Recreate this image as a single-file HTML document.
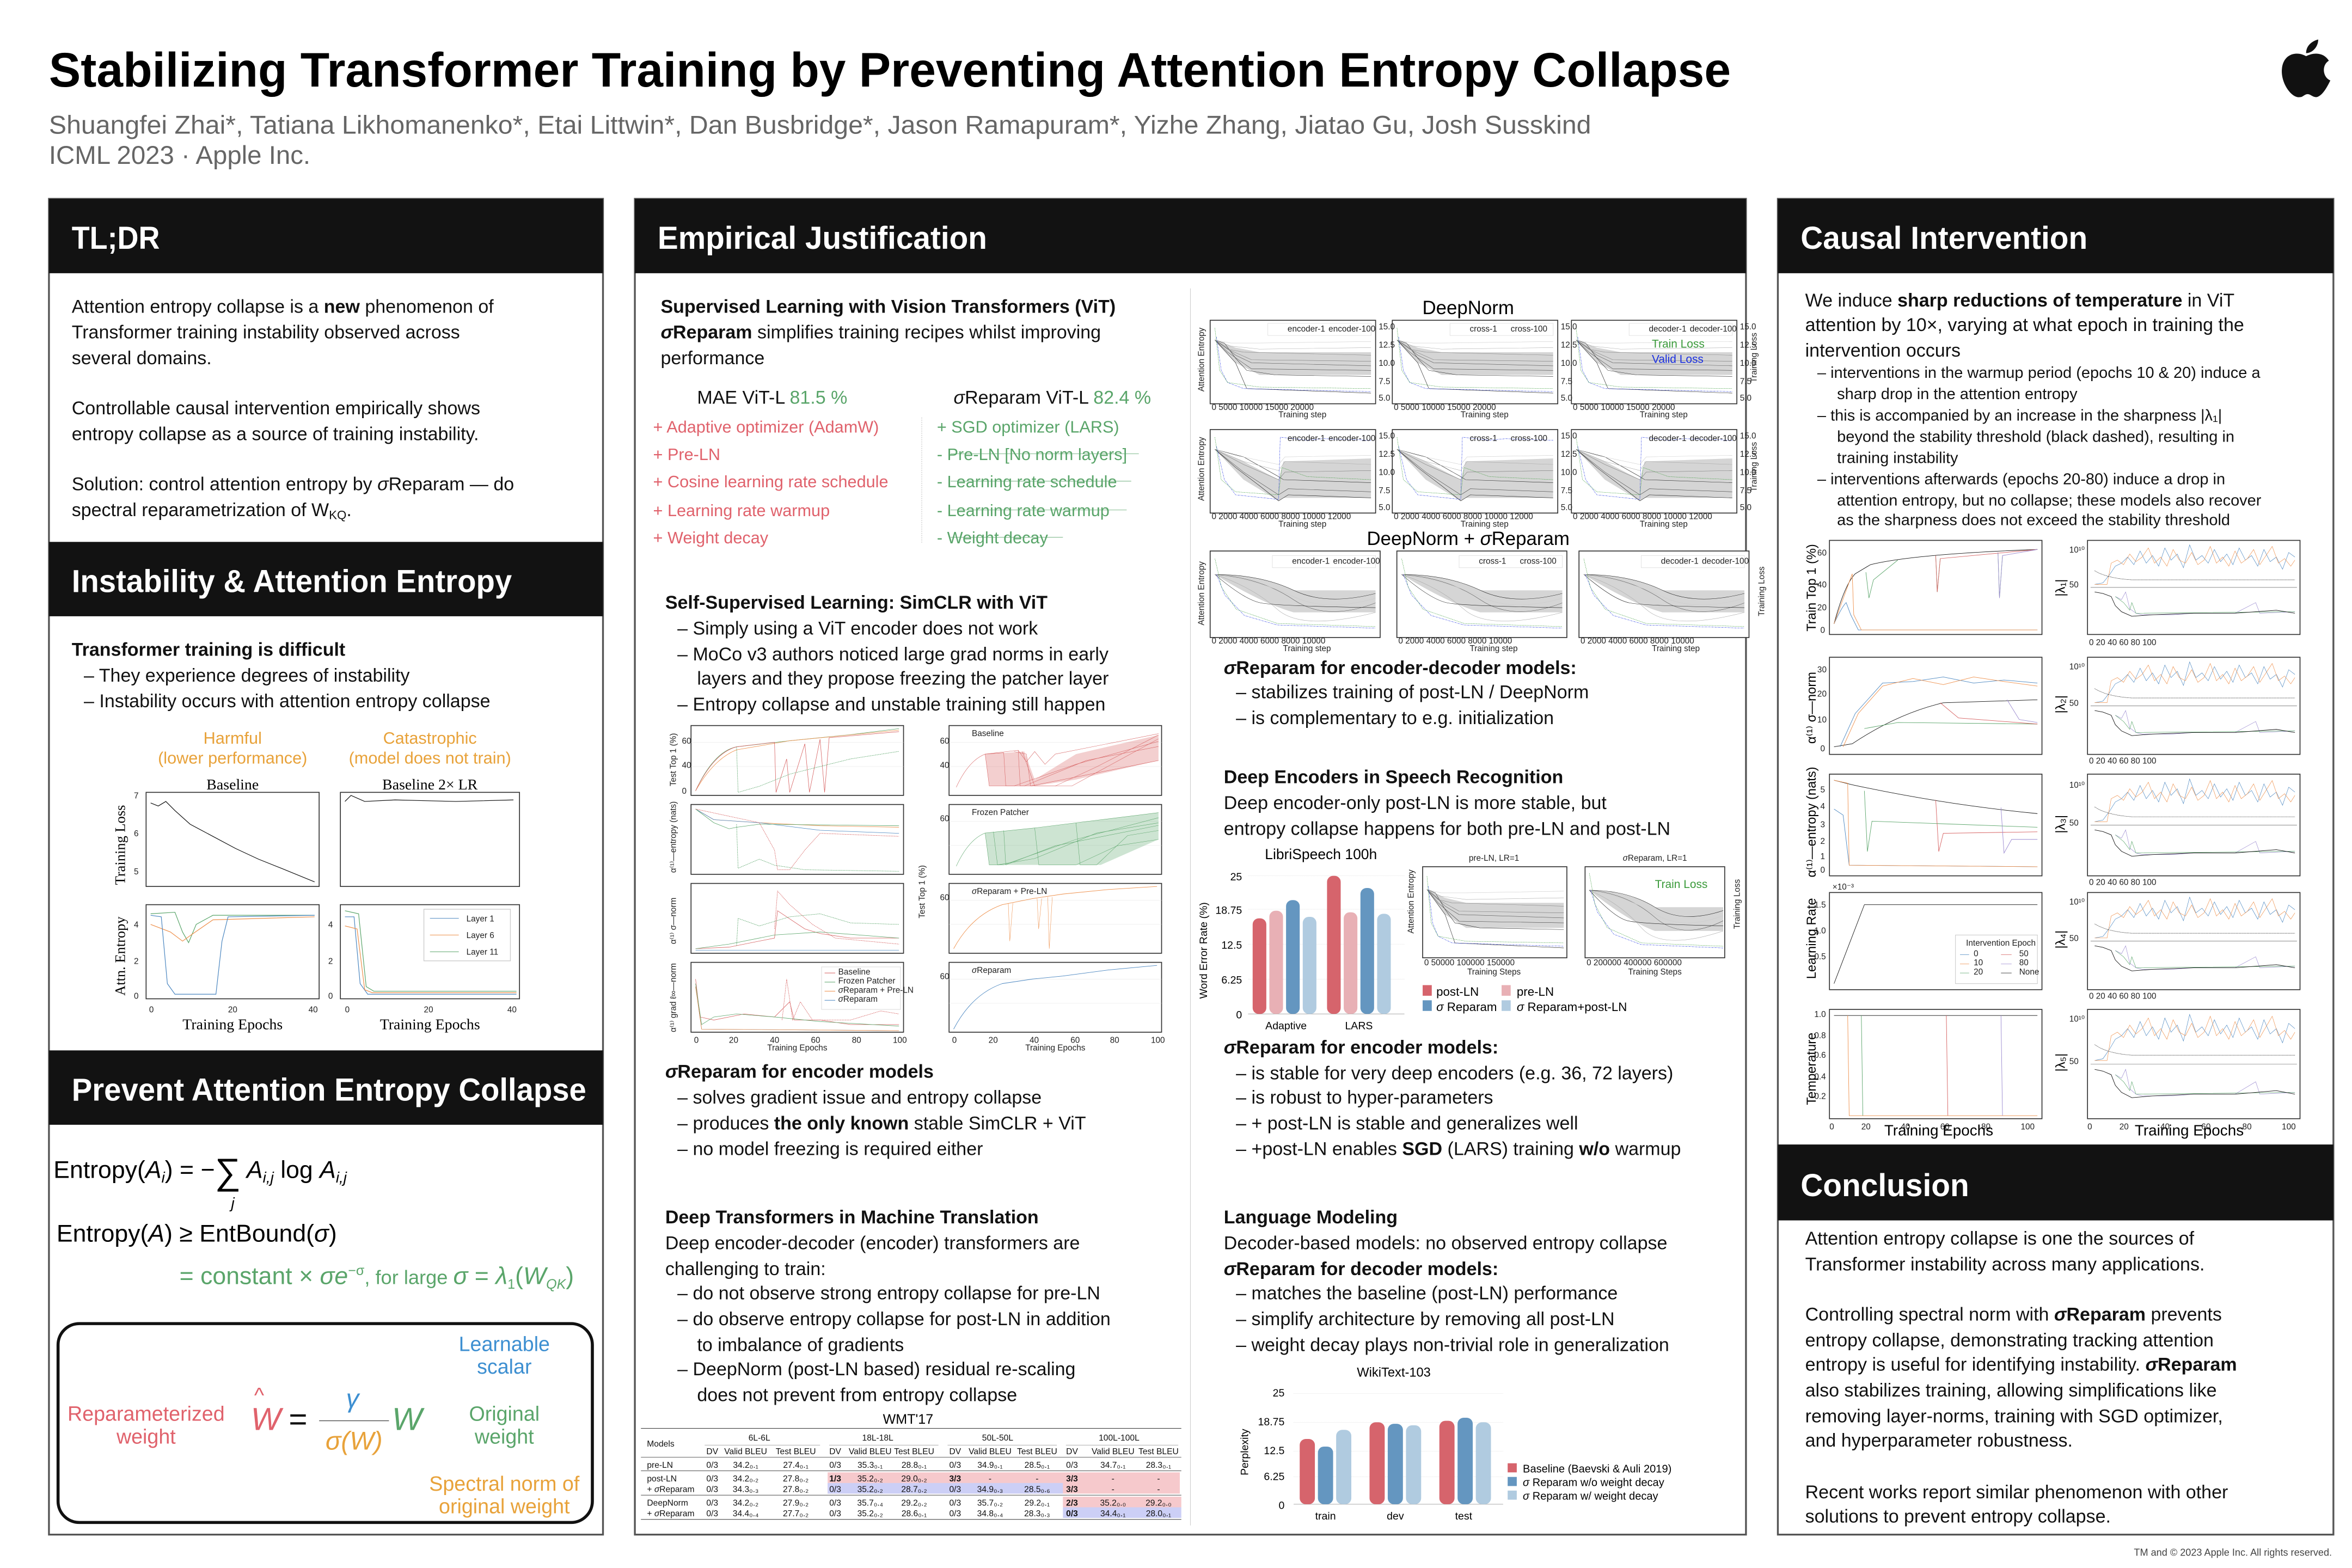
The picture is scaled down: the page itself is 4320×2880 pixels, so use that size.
<!DOCTYPE html>
<html><head><meta charset="utf-8">
<style>
html,body{margin:0;padding:0;background:#fff;}
body{width:4320px;height:2880px;overflow:hidden;}
svg{display:block}
</style></head><body>
<svg width="4320" height="2880" viewBox="0 0 1549 1033" xmlns="http://www.w3.org/2000/svg">
<defs>
<style>
text{font-family:"Liberation Sans",sans-serif;}
.b{font-size:12.2px;fill:#111}
.s{font-size:10.4px;fill:#111}
.h{font-size:21px;font-weight:bold;fill:#fff}
.bd{font-weight:bold}
.sf{font-family:"Liberation Serif",serif}
.tk{font-family:"Liberation Serif",serif;font-size:5.5px;fill:#222}
.tl{font-family:"Liberation Serif",serif;font-size:7.5px;fill:#222}
.tb{font-family:"Liberation Serif",serif;font-size:5.6px;fill:#111}
path,polyline,line{vector-effect:non-scaling-stroke}
.fr{fill:#fff;stroke:#333;stroke-width:0.6}
.gr{stroke:#e2e2e2;stroke-width:0.5}
</style>
<symbol id="dn1" viewBox="0 0 100 50" preserveAspectRatio="none">
<path d="M2,10 L15,15 L30,18 L100,18 L100,33 L30,33 L15,25 Z" fill="#888" opacity=".35"/>
<g fill="none" stroke-width="0.6">
<path d="M2,10 L8,12 L15,22 L22,30 L40,33 L100,34" stroke="#222"/>
<path d="M2,10 L8,14 L15,20 L25,25 L100,27" stroke="#555"/>
<path d="M2,10 L10,16 L20,18 L100,20" stroke="#888"/>
<path d="M2,10 L12,14 L30,16 L100,15" stroke="#aaa"/>
<path d="M2,10 L12,12 L30,12 L100,11" stroke="#ccc"/>
<path d="M2,10 L15,25 L22,42 L100,45" stroke="#111"/>
<path d="M2,10 L10,18 L25,29 L100,30" stroke="#444"/>
<path d="M2,10 L10,16 L25,23 L100,24" stroke="#777"/>
<path d="M3,8 L6,30 L10,38 L20,42 L100,44" stroke="#1a2fe0" stroke-dasharray="3,1,1,1"/>
<path d="M2,2 L5,30 L10,38 L30,41 L100,42" stroke="#3a9a3a" stroke-dasharray="2,1"/>
</g></symbol>
<symbol id="dn2" viewBox="0 0 100 50" preserveAspectRatio="none">
<path d="M2,10 L20,18 L42,30 L45,18 L100,16 L100,42 L45,42 L42,44 L20,30 Z" fill="#888" opacity=".35"/>
<g fill="none" stroke-width="0.6">
<path d="M2,10 L20,15 L42,28 L45,30 L100,32" stroke="#222"/>
<path d="M2,10 L15,22 L30,34 L42,44 L48,40 L100,42" stroke="#111"/>
<path d="M2,10 L20,18 L42,24 L46,18 L100,20" stroke="#aaa"/>
<path d="M2,10 L20,20 L42,30 L46,25 L100,24" stroke="#777"/>
<path d="M2,10 L15,14 L42,20 L46,15 L100,14" stroke="#ccc"/>
<path d="M2,10 L20,25 L42,40 L48,36 L100,38" stroke="#444"/>
<path d="M3,8 L8,30 L15,40 L42,43 L43,2 L60,4 L70,3 L100,4" stroke="#1a2fe0" stroke-dasharray="3,1,1,1"/>
<path d="M2,2 L6,30 L15,38 L42,40 L44,22 L60,28 L100,30" stroke="#3a9a3a" stroke-dasharray="2,1"/>
</g></symbol>
<symbol id="dn3" viewBox="0 0 100 50" preserveAspectRatio="none">
<path d="M2,12 Q30,12 50,22 L100,22 L100,36 L50,36 Q30,30 2,12 Z" fill="#888" opacity=".35"/>
<g fill="none" stroke-width="0.6">
<path d="M2,12 Q30,12 50,22 T100,24" stroke="#222"/>
<path d="M2,12 Q30,14 50,28 T100,30" stroke="#555"/>
<path d="M2,12 Q25,20 40,34 T100,36" stroke="#aaa"/>
<path d="M2,12 Q30,16 50,26 T100,27" stroke="#ccc"/>
<path d="M2,12 Q20,28 30,30 T100,33" stroke="#111"/>
<path d="M3,12 L8,25 L20,38 L40,44 L100,46" stroke="#1a2fe0" stroke-dasharray="3,1,1,1"/>
<path d="M2,2 L6,20 L15,34 L40,43 L100,45" stroke="#3a9a3a" stroke-dasharray="2,1"/>
</g></symbol>
<symbol id="lam" viewBox="0 0 100 60" preserveAspectRatio="none">
<line x1="0" y1="30" x2="100" y2="30" stroke="#444" stroke-width="0.6"/>
<g fill="none" stroke-width="0.7">
<path d="M2,28 L6,27 L9,22 L12,16 L15,14 L18,10 L21,15 L24,6 L27,14 L30,9 L33,16 L36,4 L39,12 L42,8 L45,17 L48,2 L51,12 L54,9 L57,14 L60,5 L63,13 L66,8 L69,15 L72,4 L75,12 L78,9 L81,16 L84,5 L87,13 L90,10 L93,18 L96,7 L99,10" stroke="#4a86c0"/>
<path d="M2,28 L8,28 L10,14 L13,12 L16,15 L19,8 L22,13 L25,10 L28,4 L31,14 L34,10 L37,16 L40,5 L43,12 L46,14 L49,7 L52,15 L55,12 L58,3 L61,14 L64,10 L67,16 L70,6 L73,14 L76,11 L79,5 L82,15 L85,9 L88,3 L91,14 L94,11 L97,16 L99,12" stroke="#ee8f4a"/>
<path d="M2,19 Q8,24 20,25 L99,25" stroke="#111" stroke-dasharray="1.5,1"/>
<path d="M12,36 L15,38 L17,33 L19,44 L22,47 L25,48 L40,48 L50,47 L70,47 L80,40 L82,47 L99,46" stroke="#9b8ad0"/>
<path d="M12,36 L16,40 L19,45 L20,40 L22,47 L99,46" stroke="#5aa56a"/>
<path d="M2,33 L6,34 L10,36 L12,42 L15,46 L20,49 L30,48 L50,47 L70,47 L90,45 L99,47" stroke="#111" stroke-width="0.9"/>
</g></symbol>
<symbol id="rb" viewBox="0 0 100 50" preserveAspectRatio="none">
<path d="M16,20 L35,18 L40,40 L60,20 L100,5 L100,25 L60,40 L40,45 L18,45 Z" fill="#d65f5f" opacity=".3"/>
<g fill="none" stroke="#d65f5f" stroke-width="0.6">
<path d="M2,46 Q8,25 16,20 L32,17 L33,45 L50,45 L70,30 L100,5"/>
<path d="M16,20 L18,45 L30,45 L60,28 L100,10"/>
<path d="M16,20 L25,19 L26,45 L35,45 L65,25 L100,14"/>
<path d="M30,18 L36,20 L38,45 L60,38 L100,25"/>
<path d="M34,18 L40,45 L58,45 L100,8"/>
<path d="M32,17 L36,26 L40,18 L45,28 L50,20 L100,4"/>
</g></symbol>
<symbol id="gb" viewBox="0 0 100 50" preserveAspectRatio="none">
<path d="M16,20 L40,16 L100,4 L100,25 L72,45 L40,45 L18,45 Z" fill="#5aa56a" opacity=".3"/>
<g fill="none" stroke="#5aa56a" stroke-width="0.6">
<path d="M2,46 Q8,25 16,20 L40,16 L100,4"/>
<path d="M16,20 L18,45 L25,45 L60,25 L100,8"/>
<path d="M20,19 L22,45 L40,40 L70,20 L100,12"/>
<path d="M25,18 L26,45 L50,30 L100,14"/>
<path d="M60,12 L62,45 L70,45 L85,22 L100,18"/>
<path d="M40,16 L42,45 L60,45 L80,30 L100,25"/>
</g></symbol>
</defs>

<text x="32" y="57" font-size="32" font-weight="bold" textLength="1108" lengthAdjust="spacingAndGlyphs">Stabilizing Transformer Training by Preventing Attention Entropy Collapse</text>
<text x="32" y="88" font-size="17" fill="#666" textLength="1016" lengthAdjust="spacingAndGlyphs">Shuangfei Zhai*, Tatiana Likhomanenko*, Etai Littwin*, Dan Busbridge*, Jason Ramapuram*, Yizhe Zhang, Jiatao Gu, Josh Susskind</text>
<text x="32" y="108" font-size="17" fill="#666">ICML 2023  ·  Apple Inc.</text>
<g fill="#111">
<path d="M1519,37 C1512,33 1503,36 1503,47 C1503,56 1510,65 1515,64 C1517,64 1518,62 1520,62 C1522,62 1523,64 1526,64 C1530,63 1533,57 1535,53 C1530,51 1529,43 1534,40 C1531,35 1525,34 1519,37 Z"/>
<path d="M1519,35 C1519,30 1523,27 1527,26 C1527,31 1523,35 1519,35 Z"/>
</g>

<g fill="none" stroke="#555" stroke-width="1.2">
<rect x="32" y="131" width="365" height="880"/>
<rect x="418" y="131" width="732" height="880"/>
<rect x="1171" y="131" width="366" height="880"/>
</g>
<g fill="#121212">
<rect x="32" y="131" width="365" height="49"/>
<rect x="32" y="357" width="365" height="49"/>
<rect x="32" y="692" width="365" height="49"/>
<rect x="418" y="131" width="732" height="49"/>
<rect x="1171" y="131" width="366" height="49"/>
<rect x="1171" y="754" width="366" height="50"/>
</g>
<text class="h" x="47" y="164" textLength="58" lengthAdjust="spacingAndGlyphs">TL;DR</text>
<text class="h" x="47" y="390" textLength="290" lengthAdjust="spacingAndGlyphs">Instability &amp; Attention Entropy</text>
<text class="h" x="47" y="725" textLength="339" lengthAdjust="spacingAndGlyphs">Prevent Attention Entropy Collapse</text>
<text class="h" x="433" y="164" textLength="217" lengthAdjust="spacingAndGlyphs">Empirical Justification</text>
<text class="h" x="1186" y="164" textLength="189" lengthAdjust="spacingAndGlyphs">Causal Intervention</text>
<text class="h" x="1186" y="788" textLength="111" lengthAdjust="spacingAndGlyphs">Conclusion</text>

<text class="b" x="47" y="206">Attention entropy collapse is a <tspan class="bd">new</tspan> phenomenon of</text>
<text class="b" x="47" y="223">Transformer training instability observed across</text>
<text class="b" x="47" y="240">several domains.</text>
<text class="b" x="47" y="273">Controllable causal intervention empirically shows</text>
<text class="b" x="47" y="290">entropy collapse as a source of training instability.</text>
<text class="b" x="47" y="323">Solution: control attention entropy by <tspan font-style="italic">σ</tspan>Reparam  — do</text>
<text class="b" x="47" y="340">spectral reparametrization of W<tspan font-size="8" dy="2">KQ</tspan><tspan dy="-2">.</tspan></text>
<text class="b bd" x="47" y="432">Transformer training is difficult</text>
<text class="b" x="55" y="449">– They experience degrees of instability</text>
<text class="b" x="55" y="466">– Instability occurs with attention entropy collapse</text>

<g font-size="11" fill="#e8a23a" text-anchor="middle">
<text x="153" y="490">Harmful</text><text x="153" y="503">(lower performance)</text>
<text x="283" y="490">Catastrophic</text><text x="283" y="503">(model does not train)</text>
</g>
<text class="sf" x="153" y="520" font-size="10" text-anchor="middle">Baseline</text>
<text class="sf" x="283" y="520" font-size="10" text-anchor="middle">Baseline 2× LR</text>
<rect class="fr" x="96" y="522" width="114" height="62"/>
<rect class="fr" x="224" y="522" width="118" height="62"/>
<rect class="fr" x="96" y="596" width="114" height="62"/>
<rect class="fr" x="224" y="596" width="118" height="62"/>
<g class="tk" font-size="7">
<text x="88" y="526">7</text><text x="88" y="551">6</text><text x="88" y="576">5</text>
<text x="88" y="611">4</text><text x="88" y="635">2</text><text x="88" y="658">0</text>
<text x="216" y="611">4</text><text x="216" y="635">2</text><text x="216" y="658">0</text>
<text x="98" y="667">0</text><text x="150" y="667">20</text><text x="203" y="667">40</text>
<text x="227" y="667">0</text><text x="279" y="667">20</text><text x="334" y="667">40</text>
</g>
<text class="sf" font-size="9.5" transform="translate(82,583) rotate(-90)">Training Loss</text>
<text class="sf" font-size="9.5" transform="translate(82,656) rotate(-90)">Attn. Entropy</text>
<text class="sf" font-size="10" x="153" y="678" text-anchor="middle">Training Epochs</text>
<text class="sf" font-size="10" x="283" y="678" text-anchor="middle">Training Epochs</text>
<g fill="none" stroke-width="1.2">
<path d="M99,529 L104,531 L109,528 L115,534 L125,543 L140,551 L155,559 L170,566 L185,572 L207,581" stroke="#111"/>
<path d="M227,528 L231,524 L240,528 L260,527 L300,528 L338,527" stroke="#111"/>
<path d="M99,602 L115,601 L120,614 L124,621 L129,609 L140,603 L207,603" stroke="#5aa56a"/>
<path d="M99,609 L112,614 L120,620 L127,615 L140,606 L207,604" stroke="#ee8f4a"/>
<path d="M99,603 L106,604 L110,648 L115,655 L142,655 L146,620 L150,604 L207,603" stroke="#4a86c0"/>
<path d="M227,604 L233,604 L237,648 L242,655 L340,655" stroke="#4a86c0"/>
<path d="M227,610 L235,612 L240,652 L245,654 L340,654" stroke="#ee8f4a"/>
<path d="M227,600 L236,602 L241,650 L246,653 L340,653" stroke="#5aa56a"/>
</g>
<rect x="279" y="599" width="57" height="34" fill="#fff" stroke="#ccc" stroke-width="0.5"/>
<g class="tk" font-size="7"><text x="307" y="607">Layer 1</text><text x="307" y="618">Layer 6</text><text x="307" y="629">Layer 11</text></g>
<line x1="283" y1="605" x2="302" y2="605" stroke="#4a86c0"/><line x1="283" y1="616" x2="302" y2="616" stroke="#ee8f4a"/><line x1="283" y1="627" x2="302" y2="627" stroke="#5aa56a"/>

<g class="sf" font-size="16">
<text x="35" y="776"><tspan>Entropy(</tspan><tspan font-style="italic">A<tspan font-size="10" dy="3">i</tspan></tspan><tspan dy="-3">) = −</tspan><tspan font-size="24" dy="4">∑</tspan><tspan dy="-4" font-style="italic"> A<tspan font-size="10" dy="3">i,j</tspan></tspan><tspan dy="-3"> log </tspan><tspan font-style="italic">A<tspan font-size="10" dy="3">i,j</tspan></tspan></text>
<text x="152" y="796" font-size="10" font-style="italic">j</text>
<text x="37" y="818">Entropy(<tspan font-style="italic">A</tspan>) ≥ EntBound(<tspan font-style="italic">σ</tspan>)</text>
<text x="118" y="846" fill="#5aa56a">= constant × <tspan font-style="italic">σe</tspan><tspan font-size="9" dy="-6">−σ</tspan><tspan dy="6" font-family="Liberation Sans" font-size="13">, for large </tspan><tspan font-style="italic">σ</tspan> = <tspan font-style="italic">λ</tspan><tspan font-size="9" dy="3">1</tspan><tspan dy="-3">(</tspan><tspan font-style="italic">W<tspan font-size="9" dy="3">QK</tspan></tspan><tspan dy="-3">)</tspan></text>
</g>
<rect x="38" y="872" width="352" height="131" rx="14" fill="none" stroke="#111" stroke-width="2"/>
<g font-size="13.5" text-anchor="middle">
<text x="332" y="890" fill="#3d8fd1">Learnable</text><text x="332" y="905" fill="#3d8fd1">scalar</text>
<text x="96" y="936" fill="#e0626c">Reparameterized</text><text x="96" y="951" fill="#e0626c">weight</text>
<text x="332" y="936" fill="#5aa56a">Original</text><text x="332" y="951" fill="#5aa56a">weight</text>
<text x="332" y="982" fill="#e8a23a">Spectral norm of</text><text x="332" y="997" fill="#e8a23a">original weight</text>
</g>
<g class="sf" font-size="21" font-style="italic">
<text x="165" y="942" fill="#e0626c">W</text><text x="167" y="924" fill="#e0626c" font-size="14">^</text>
<text x="190" y="942" fill="#111" font-style="normal">=</text>
<text x="232" y="927" fill="#3d8fd1" text-anchor="middle" font-size="17">γ</text>
<line x1="210" y1="936" x2="256" y2="936" stroke="#111" stroke-width="1"/>
<text x="233" y="955" fill="#e8a23a" text-anchor="middle" font-size="17">σ(W)</text>
<text x="258" y="942" fill="#5aa56a">W</text>
</g>

<line x1="784" y1="190" x2="784" y2="1005" stroke="#ccc" stroke-width="1"/>
<text class="b bd" x="435" y="206">Supervised Learning with Vision Transformers (ViT)</text>
<text class="b" x="435" y="223"><tspan class="bd"><tspan font-style="italic">σ</tspan>Reparam</tspan> simplifies training recipes whilst improving</text>
<text class="b" x="435" y="240">performance</text>
<text class="b" x="459" y="266">MAE ViT-L <tspan fill="#5aa56a">81.5 %</tspan></text>
<text class="b" x="628" y="266"><tspan font-style="italic">σ</tspan>Reparam ViT-L <tspan fill="#5aa56a">82.4 %</tspan></text>
<g font-size="11" fill="#e0626c">
<text x="430" y="285">+ Adaptive optimizer (AdamW)</text>
<text x="430" y="303">+ Pre-LN</text>
<text x="430" y="321">+ Cosine learning rate schedule</text>
<text x="430" y="340">+ Learning rate warmup</text>
<text x="430" y="358">+ Weight decay</text>
</g>
<line x1="607" y1="275" x2="607" y2="358" stroke="#bbb" stroke-dasharray="2,2"/>
<g font-size="11" fill="#5aa56a">
<text x="617" y="285">+ SGD optimizer (LARS)</text>
<text x="617" y="303">- Pre-LN [No norm layers]</text>
<text x="617" y="321">- Learning rate schedule</text>
<text x="617" y="340">- Learning rate warmup</text>
<text x="617" y="358">- Weight decay</text>
</g>
<line x1="626" y1="299" x2="750" y2="299" stroke="#5aa56a" stroke-width=".8"/>
<line x1="626" y1="317" x2="745" y2="317" stroke="#5aa56a" stroke-width=".8"/>
<line x1="626" y1="336" x2="742" y2="336" stroke="#5aa56a" stroke-width=".8"/>
<line x1="626" y1="354" x2="700" y2="354" stroke="#5aa56a" stroke-width=".8"/>

<text class="b bd" x="438" y="401">Self-Supervised Learning: SimCLR with ViT</text>
<text class="b" x="446" y="418">– Simply using a ViT encoder does not work</text>
<text class="b" x="446" y="435">– MoCo v3 authors noticed large grad norms in early</text>
<text class="b" x="459" y="451">layers and they propose freezing the patcher layer</text>
<text class="b" x="446" y="468">– Entropy collapse and unstable training still happen</text>

<g>
<rect class="fr" x="455" y="478" width="140" height="46"/>
<rect class="fr" x="455" y="530" width="140" height="46"/>
<rect class="fr" x="455" y="582" width="140" height="46"/>
<rect class="fr" x="455" y="634" width="140" height="46"/>
<rect class="fr" x="625" y="478" width="140" height="46"/>
<rect class="fr" x="625" y="530" width="140" height="46"/>
<rect class="fr" x="625" y="582" width="140" height="46"/>
<rect class="fr" x="625" y="634" width="140" height="46"/>
</g>
<g class="gr">
<line x1="455" y1="489" x2="595" y2="489"/><line x1="455" y1="505" x2="595" y2="505"/>
<line x1="625" y1="489" x2="765" y2="489"/><line x1="625" y1="505" x2="765" y2="505"/>
<line x1="625" y1="541" x2="765" y2="541"/><line x1="625" y1="557" x2="765" y2="557"/>
<line x1="625" y1="593" x2="765" y2="593"/><line x1="625" y1="609" x2="765" y2="609"/>
<line x1="625" y1="645" x2="765" y2="645"/><line x1="625" y1="661" x2="765" y2="661"/>
</g>
<g fill="none" stroke-width="0.8">
<path d="M458,521 Q470,495 485,492 L520,488 L560,484 L592,480" stroke="#5aa56a"/>
<path d="M458,521 Q470,500 485,494 L520,488 L592,481" stroke="#ee8f4a"/>
<path d="M458,521 Q470,496 485,492 L510,489 L511,522 L518,500 L520,522 L530,490 L533,522 L540,487 L543,522 L546,486 L592,482" stroke="#d65f5f"/>
<path d="M485,492 L486,522 L500,518 L520,510 L540,505 L560,500 L592,495" stroke="#5aa56a" stroke-dasharray="2,1"/>
<path d="M458,533 L470,540 L500,542 L540,544 L592,545" stroke="#ee8f4a"/>
<path d="M458,533 L470,540 L500,542 L540,547 L592,549" stroke="#4a86c0"/>
<path d="M458,533 L470,542 L480,546 L485,545 L500,543 L592,544" stroke="#5aa56a"/>
<path d="M485,543 L486,572 L500,566 L510,570 L530,573 L592,574" stroke="#5aa56a" stroke-dasharray="2,1"/>
<path d="M458,533 L500,542 L510,560 L512,573 L520,573 L530,560 L540,549 L592,551" stroke="#d65f5f" stroke-dasharray="2,1"/>
<path d="M458,625 L480,624 L510,618 L512,600 L530,612 L540,615 L560,618 L592,618" stroke="#d65f5f"/>
<path d="M458,625 L480,622 L510,616 L540,614 L592,618" stroke="#5aa56a"/>
<path d="M485,623 L486,605 L500,610 L520,604 L540,602 L560,608 L592,609" stroke="#5aa56a" stroke-dasharray="2,1"/>
<path d="M510,612 L512,587 L520,596 L535,609 L550,618 L592,622" stroke="#d65f5f" stroke-dasharray="2,1"/>
<path d="M458,626 L592,626" stroke="#4a86c0"/>
<path d="M458,645 L461,670 L470,672 L490,668 L510,670 L520,660 L523,672 L540,672 L560,675 L592,675" stroke="#d65f5f"/>
<path d="M458,648 L462,675 L470,670 L485,668 L510,670 L540,673 L592,676" stroke="#5aa56a"/>
<path d="M458,650 L462,678 L592,679" stroke="#4a86c0"/>
<path d="M458,650 L462,678 L592,679" stroke="#ee8f4a"/>
<path d="M515,672 L518,645 L522,672 L527,660 L535,672 L560,672 L580,666 L592,668" stroke="#d65f5f" stroke-dasharray="2,1"/>
</g>
<rect x="541" y="637" width="52" height="28" fill="#fff" stroke="#ddd" stroke-width=".4"/>
<g class="tk" font-size="4.2"><text x="552" y="642">Baseline</text><text x="552" y="648">Frozen Patcher</text><text x="552" y="654"><tspan font-style="italic">σ</tspan>Reparam + Pre-LN</text><text x="552" y="660"><tspan font-style="italic">σ</tspan>Reparam</text></g>
<line x1="543" y1="641" x2="550" y2="641" stroke="#d65f5f"/><line x1="543" y1="647" x2="550" y2="647" stroke="#5aa56a"/><line x1="543" y1="653" x2="550" y2="653" stroke="#ee8f4a"/><line x1="543" y1="659" x2="550" y2="659" stroke="#4a86c0"/>
<use href="#rb" x="627" y="480" width="136" height="42"/>
<use href="#gb" x="627" y="532" width="136" height="42"/>
<path d="M628,625 Q640,603 660,596 L680,592 L700,589 L730,586 L762,584" fill="none" stroke="#ee8f4a" stroke-width="0.9"/>
<path d="M664,595 L665,620 L667,595 M683,592 L684,612 L686,592 M690,591 L691,625 L693,591" fill="none" stroke="#ee8f4a" stroke-width=".6"/>
<path d="M628,678 Q640,655 660,648 L680,645 L700,643 L730,639 L762,636" fill="none" stroke="#4a86c0" stroke-width="0.9"/>
<g class="tk" font-size="4.5">
<text x="640" y="485">Baseline</text><text x="640" y="537">Frozen Patcher</text><text x="640" y="589"><tspan font-style="italic">σ</tspan>Reparam + Pre-LN</text><text x="640" y="641"><tspan font-style="italic">σ</tspan>Reparam</text>
</g>
<g class="tk">
<text x="449" y="490">60</text><text x="449" y="506">40</text><text x="449" y="523">0</text>
<text x="619" y="490">60</text><text x="619" y="506">40</text><text x="619" y="541">60</text><text x="619" y="593">60</text><text x="619" y="645">60</text>
<text x="457" y="687">0</text><text x="480" y="687">20</text><text x="507" y="687">40</text><text x="534" y="687">60</text><text x="561" y="687">80</text><text x="588" y="687">100</text>
<text x="627" y="687">0</text><text x="651" y="687">20</text><text x="678" y="687">40</text><text x="705" y="687">60</text><text x="731" y="687">80</text><text x="758" y="687">100</text>
</g>
<g class="tk" font-size="5.5">
<text transform="translate(445,518) rotate(-90)">Test Top 1 (%)</text>
<text transform="translate(445,575) rotate(-90)">α⁽¹⁾—entropy (nats)</text>
<text transform="translate(445,622) rotate(-90)">α⁽¹⁾ σ—norm</text>
<text transform="translate(445,680) rotate(-90)">α⁽¹⁾ grad ℓ∞—norm</text>
<text transform="translate(609,605) rotate(-90)">Test Top 1 (%)</text>
<text x="525" y="692" text-anchor="middle">Training Epochs</text><text x="695" y="692" text-anchor="middle">Training Epochs</text>
</g>

<text class="b bd" x="438" y="710"><tspan font-style="italic">σ</tspan>Reparam for encoder models</text>
<text class="b" x="446" y="727">– solves gradient issue and entropy collapse</text>
<text class="b" x="446" y="744">– produces <tspan class="bd">the only known</tspan> stable SimCLR + ViT</text>
<text class="b" x="446" y="761">– no model freezing is required either</text>

<text class="b bd" x="438" y="806">Deep Transformers in Machine Translation</text>
<text class="b" x="438" y="823">Deep encoder-decoder (encoder) transformers are</text>
<text class="b" x="438" y="840">challenging to train:</text>
<text class="b" x="446" y="856">– do not observe strong entropy collapse for pre-LN</text>
<text class="b" x="446" y="873">– do observe entropy collapse for post-LN in addition</text>
<text class="b" x="459" y="890">to imbalance of gradients</text>
<text class="b" x="446" y="906">– DeepNorm (post-LN based) residual re-scaling</text>
<text class="b" x="459" y="923">does not prevent from entropy collapse</text>

<text x="598" y="938" font-size="9" text-anchor="middle">WMT'17</text>
<g fill="#f6c9cc"><rect x="545" y="970" width="232" height="14"/><rect x="700" y="986" width="78" height="7"/></g>
<g fill="#cccff6"><rect x="545" y="977" width="155" height="7"/><rect x="700" y="993" width="78" height="7"/></g>
<g stroke="#333"><line x1="422" y1="941" x2="778" y2="941" stroke-width="1"/><line x1="422" y1="960" x2="778" y2="960" stroke-width="0.8"/><line x1="422" y1="969" x2="778" y2="969" stroke-width="0.8"/><line x1="422" y1="985" x2="778" y2="985" stroke-width="0.8"/><line x1="422" y1="1001" x2="778" y2="1001" stroke-width="1"/>
<g stroke-width=".4"><line x1="464" y1="952" x2="540" y2="952"/><line x1="546" y1="952" x2="618" y2="952"/><line x1="624" y1="952" x2="696" y2="952"/><line x1="702" y1="952" x2="776" y2="952"/></g></g>
<g class="tb" text-anchor="middle">
<text x="435" y="953">Models</text>
<text x="500" y="949">6L-6L</text><text x="578" y="949">18L-18L</text><text x="657" y="949">50L-50L</text><text x="737" y="949">100L-100L</text>
<text x="469" y="958">DV</text><text x="491" y="958">Valid BLEU</text><text x="524" y="958">Test BLEU</text>
<text x="550" y="958">DV</text><text x="573" y="958">Valid BLEU</text><text x="602" y="958">Test BLEU</text>
<text x="629" y="958">DV</text><text x="652" y="958">Valid BLEU</text><text x="683" y="958">Test BLEU</text>
<text x="706" y="958">DV</text><text x="733" y="958">Valid BLEU</text><text x="763" y="958">Test BLEU</text>
</g>
<g class="tb">
<text x="426" y="967">pre-LN</text><text x="426" y="976">post-LN</text><text x="426" y="983">  + <tspan font-style="italic">σ</tspan>Reparam</text>
<text x="426" y="992">DeepNorm</text><text x="426" y="999">  + <tspan font-style="italic">σ</tspan>Reparam</text>
</g>
<g class="tb" text-anchor="middle">
<text x="469" y="967">0/3</text><text x="491" y="967">34.2₀.₁</text><text x="524" y="967">27.4₀.₁</text><text x="550" y="967">0/3</text><text x="573" y="967">35.3₀.₁</text><text x="602" y="967">28.8₀.₁</text><text x="629" y="967">0/3</text><text x="652" y="967">34.9₀.₁</text><text x="683" y="967">28.5₀.₁</text><text x="706" y="967">0/3</text><text x="733" y="967">34.7₀.₁</text><text x="763" y="967">28.3₀.₁</text>
<text x="469" y="976">0/3</text><text x="491" y="976">34.2₀.₂</text><text x="524" y="976">27.8₀.₂</text><text x="550" y="976" font-weight="bold">1/3</text><text x="573" y="976">35.2₀.₂</text><text x="602" y="976">29.0₀.₂</text><text x="629" y="976" font-weight="bold">3/3</text><text x="652" y="976">-</text><text x="683" y="976">-</text><text x="706" y="976" font-weight="bold">3/3</text><text x="733" y="976">-</text><text x="763" y="976">-</text>
<text x="469" y="983">0/3</text><text x="491" y="983">34.3₀.₃</text><text x="524" y="983">27.8₀.₂</text><text x="550" y="983">0/3</text><text x="573" y="983">35.2₀.₂</text><text x="602" y="983">28.7₀.₂</text><text x="629" y="983">0/3</text><text x="652" y="983">34.9₀.₃</text><text x="683" y="983">28.5₀.₆</text><text x="706" y="983" font-weight="bold">3/3</text><text x="733" y="983">-</text><text x="763" y="983">-</text>
<text x="469" y="992">0/3</text><text x="491" y="992">34.2₀.₂</text><text x="524" y="992">27.9₀.₂</text><text x="550" y="992">0/3</text><text x="573" y="992">35.7₀.₄</text><text x="602" y="992">29.2₀.₂</text><text x="629" y="992">0/3</text><text x="652" y="992">35.7₀.₂</text><text x="683" y="992">29.2₀.₁</text><text x="706" y="992" font-weight="bold">2/3</text><text x="733" y="992">35.2₀.₀</text><text x="763" y="992">29.2₀.₀</text>
<text x="469" y="999">0/3</text><text x="491" y="999">34.4₀.₄</text><text x="524" y="999">27.7₀.₂</text><text x="550" y="999">0/3</text><text x="573" y="999">35.2₀.₂</text><text x="602" y="999">28.6₀.₁</text><text x="629" y="999">0/3</text><text x="652" y="999">34.8₀.₄</text><text x="683" y="999">28.3₀.₃</text><text x="706" y="999" font-weight="bold">0/3</text><text x="733" y="999">34.4₀.₁</text><text x="763" y="999">28.0₀.₁</text>
</g>

<text x="967" y="207" font-size="12.5" text-anchor="middle">DeepNorm</text>
<text x="967" y="359" font-size="12.5" text-anchor="middle">DeepNorm + <tspan font-style="italic">σ</tspan>Reparam</text>
<g>
<rect class="fr" x="797" y="211" width="109" height="55"/><rect class="fr" x="917" y="211" width="109" height="55"/><rect class="fr" x="1035" y="211" width="109" height="55"/>
<rect class="fr" x="797" y="283" width="109" height="55"/><rect class="fr" x="917" y="283" width="109" height="55"/><rect class="fr" x="1035" y="283" width="109" height="55"/>
<rect class="fr" x="797" y="363" width="112" height="57"/><rect class="fr" x="920" y="363" width="112" height="57"/><rect class="fr" x="1040" y="363" width="112" height="57"/>
</g>
<use href="#dn1" x="798" y="214" width="105" height="50"/>
<use href="#dn1" x="918" y="214" width="105" height="50"/>
<use href="#dn1" x="1036" y="214" width="105" height="50"/>
<use href="#dn2" x="798" y="286" width="105" height="50"/>
<use href="#dn2" x="918" y="286" width="105" height="50"/>
<use href="#dn2" x="1036" y="286" width="105" height="50"/>
<use href="#dn3" x="798" y="366" width="108" height="52"/>
<use href="#dn3" x="921" y="366" width="108" height="52"/>
<use href="#dn3" x="1041" y="366" width="108" height="52"/>
<g class="tk" font-size="3.8">
<rect x="835" y="213" width="68" height="8" fill="#fff" stroke="#ddd" stroke-width=".3"/><text x="848" y="218.5">encoder-1</text><text x="875" y="218.5">encoder-100</text>
<rect x="955" y="213" width="68" height="8" fill="#fff" stroke="#ddd" stroke-width=".3"/><text x="968" y="218.5">cross-1</text><text x="995" y="218.5">cross-100</text>
<rect x="1073" y="213" width="68" height="8" fill="#fff" stroke="#ddd" stroke-width=".3"/><text x="1086" y="218.5">decoder-1</text><text x="1113" y="218.5">decoder-100</text>
<text x="848" y="290.5">encoder-1</text><text x="875" y="290.5">encoder-100</text><text x="968" y="290.5">cross-1</text><text x="995" y="290.5">cross-100</text><text x="1086" y="290.5">decoder-1</text><text x="1113" y="290.5">decoder-100</text>
<rect x="838" y="366" width="68" height="8" fill="#fff" stroke="#ddd" stroke-width=".3"/><text x="851" y="371.5">encoder-1</text><text x="878" y="371.5">encoder-100</text>
<rect x="961" y="366" width="68" height="8" fill="#fff" stroke="#ddd" stroke-width=".3"/><text x="974" y="371.5">cross-1</text><text x="1001" y="371.5">cross-100</text>
<rect x="1081" y="366" width="68" height="8" fill="#fff" stroke="#ddd" stroke-width=".3"/><text x="1094" y="371.5">decoder-1</text><text x="1121" y="371.5">decoder-100</text>
<text x="842" y="275">Training step</text><text x="962" y="275">Training step</text><text x="1080" y="275">Training step</text>
<text x="842" y="347">Training step</text><text x="962" y="347">Training step</text><text x="1080" y="347">Training step</text>
<text x="845" y="429">Training step</text><text x="968" y="429">Training step</text><text x="1088" y="429">Training step</text>
<text x="798" y="270">0   5000  10000  15000  20000</text><text x="918" y="270">0   5000  10000  15000  20000</text><text x="1036" y="270">0   5000  10000  15000  20000</text>
<text x="798" y="342">0  2000 4000 6000 8000 10000 12000</text><text x="918" y="342">0  2000 4000 6000 8000 10000 12000</text><text x="1036" y="342">0  2000 4000 6000 8000 10000 12000</text>
<text x="798" y="424">0  2000  4000  6000  8000  10000</text><text x="921" y="424">0  2000  4000  6000  8000  10000</text><text x="1041" y="424">0  2000  4000  6000  8000  10000</text>
<text x="908" y="217">15.0</text><text x="908" y="229">12.5</text><text x="908" y="241">10.0</text><text x="908" y="253">7.5</text><text x="908" y="264">5.0</text>
<text x="1028" y="217">15.0</text><text x="1028" y="229">12.5</text><text x="1028" y="241">10.0</text><text x="1028" y="253">7.5</text><text x="1028" y="264">5.0</text>
<text x="1146" y="217">15.0</text><text x="1146" y="229">12.5</text><text x="1146" y="241">10.0</text><text x="1146" y="253">7.5</text><text x="1146" y="264">5.0</text>
<text x="908" y="289">15.0</text><text x="908" y="301">12.5</text><text x="908" y="313">10.0</text><text x="908" y="325">7.5</text><text x="908" y="336">5.0</text>
<text x="1028" y="289">15.0</text><text x="1028" y="301">12.5</text><text x="1028" y="313">10.0</text><text x="1028" y="325">7.5</text><text x="1028" y="336">5.0</text>
<text x="1146" y="289">15.0</text><text x="1146" y="301">12.5</text><text x="1146" y="313">10.0</text><text x="1146" y="325">7.5</text><text x="1146" y="336">5.0</text>
<text transform="translate(793,258) rotate(-90)">Attention Entropy</text>
<text transform="translate(793,330) rotate(-90)">Attention Entropy</text>
<text transform="translate(793,412) rotate(-90)">Attention Entropy</text>
<text transform="translate(1157,252) rotate(-90)">Training Loss</text>
<text transform="translate(1157,324) rotate(-90)">Training Loss</text>
<text transform="translate(1162,406) rotate(-90)">Training Loss</text>
</g>
<text x="1088" y="229" font-size="7.5" fill="#3a9a3a">Train Loss</text>
<text x="1088" y="239" font-size="7.5" fill="#1a2fe0">Valid Loss</text>

<text class="b bd" x="806" y="444"><tspan font-style="italic">σ</tspan>Reparam for encoder-decoder models:</text>
<text class="b" x="814" y="460">– stabilizes training of post-LN / DeepNorm</text>
<text class="b" x="814" y="477">– is complementary to e.g. initialization</text>

<text class="b bd" x="806" y="516">Deep Encoders in Speech Recognition</text>
<text class="b" x="806" y="533">Deep encoder-only post-LN is more stable, but</text>
<text class="b" x="806" y="550">entropy collapse happens for both pre-LN and post-LN</text>

<text x="870" y="566" font-size="9.5" text-anchor="middle">LibriSpeech 100h</text>
<g stroke="#ccc" stroke-width=".5" stroke-dasharray="1,1"><line x1="822" y1="577" x2="925" y2="577"/><line x1="822" y1="599" x2="925" y2="599"/><line x1="822" y1="622" x2="925" y2="622"/><line x1="822" y1="645" x2="925" y2="645"/></g>
<line x1="822" y1="668" x2="925" y2="668" stroke="#aaa" stroke-width="1"/>
<g font-size="7" text-anchor="end"><text x="818" y="580">25</text><text x="818" y="602">18.75</text><text x="818" y="625">12.5</text><text x="818" y="648">6.25</text><text x="818" y="671">0</text></g>
<text font-size="7" transform="translate(795,658) rotate(-90)">Word Error Rate (%)</text>
<g>
<rect x="825" y="605" width="9" height="63" rx="4" fill="#d6646c"/>
<rect x="836" y="600" width="9" height="68" rx="4" fill="#e8b0b5"/>
<rect x="847" y="593" width="9" height="75" rx="4" fill="#6496c0"/>
<rect x="858" y="604" width="9" height="64" rx="4" fill="#b0cbe0"/>
<rect x="874" y="577" width="9" height="91" rx="4" fill="#d6646c"/>
<rect x="885" y="601" width="9" height="67" rx="4" fill="#e8b0b5"/>
<rect x="896" y="585" width="9" height="83" rx="4" fill="#6496c0"/>
<rect x="907" y="602" width="9" height="66" rx="4" fill="#b0cbe0"/>
</g>
<g font-size="7" text-anchor="middle"><text x="847" y="678">Adaptive</text><text x="895" y="678">LARS</text></g>
<rect x="937" y="571" width="95" height="60" class="fr"/>
<rect x="1044" y="571" width="92" height="60" class="fr"/>
<use href="#dn1" x="938" y="575" width="92" height="55"/>
<use href="#dn3" x="1045" y="573" width="90" height="56"/>
<g class="tk" font-size="4.5">
<text x="984" y="567" text-anchor="middle">pre-LN, LR=1</text><text x="1090" y="567" text-anchor="middle"><tspan font-style="italic">σ</tspan>Reparam, LR=1</text>
<text x="984" y="642" text-anchor="middle">Training Steps</text><text x="1090" y="642" text-anchor="middle">Training Steps</text>
<text x="938" y="636">0      50000   100000  150000</text><text x="1045" y="636">0     200000   400000   600000</text>
<text transform="translate(931,615) rotate(-90)">Attention Entropy</text><text transform="translate(1146,612) rotate(-90)">Training Loss</text>
</g>
<text x="1090" y="585" font-size="7.5" fill="#3a9a3a">Train Loss</text>
<g font-size="8">
<rect x="937" y="649" width="6" height="7" fill="#d6646c"/><text x="946" y="656">post-LN</text>
<rect x="937" y="659" width="6" height="7" fill="#6496c0"/><text x="946" y="666"><tspan font-style="italic">σ</tspan> Reparam</text>
<rect x="989" y="649" width="6" height="7" fill="#e8b0b5"/><text x="999" y="656">pre-LN</text>
<rect x="989" y="659" width="6" height="7" fill="#b0cbe0"/><text x="999" y="666"><tspan font-style="italic">σ</tspan> Reparam+post-LN</text>
</g>

<text class="b bd" x="806" y="694"><tspan font-style="italic">σ</tspan>Reparam for encoder models:</text>
<text class="b" x="814" y="711">– is stable for very deep encoders (e.g. 36, 72 layers)</text>
<text class="b" x="814" y="727">– is robust to hyper-parameters</text>
<text class="b" x="814" y="744">– + post-LN is stable and generalizes well</text>
<text class="b" x="814" y="761">– +post-LN enables <tspan class="bd">SGD</tspan> (LARS) training  <tspan class="bd">w/o</tspan> warmup</text>

<text class="b bd" x="806" y="806">Language Modeling</text>
<text class="b" x="806" y="823">Decoder-based models: no observed entropy collapse</text>
<text class="b bd" x="806" y="840"><tspan font-style="italic">σ</tspan>Reparam for decoder models:</text>
<text class="b" x="814" y="856">– matches the baseline (post-LN) performance</text>
<text class="b" x="814" y="873">– simplify architecture by removing all post-LN</text>
<text class="b" x="814" y="890">– weight decay plays non-trivial role in generalization</text>

<text x="918" y="907" font-size="8.5" text-anchor="middle">WikiText-103</text>
<g stroke="#ccc" stroke-width=".5" stroke-dasharray="1,1"><line x1="852" y1="918" x2="990" y2="918"/><line x1="852" y1="937" x2="990" y2="937"/><line x1="852" y1="956" x2="990" y2="956"/><line x1="852" y1="973" x2="990" y2="973"/></g>
<line x1="852" y1="991" x2="990" y2="991" stroke="#aaa" stroke-width="1"/>
<g font-size="7" text-anchor="end"><text x="846" y="920">25</text><text x="846" y="939">18.75</text><text x="846" y="958">12.5</text><text x="846" y="975">6.25</text><text x="846" y="994">0</text></g>
<text font-size="7" transform="translate(822,972) rotate(-90)">Perplexity</text>
<g>
<rect x="856" y="948" width="10" height="43" rx="4" fill="#d6646c"/><rect x="868" y="953" width="10" height="38" rx="4" fill="#6496c0"/><rect x="880" y="942" width="10" height="49" rx="4" fill="#b0cbe0"/>
<rect x="902" y="937" width="10" height="54" rx="4" fill="#d6646c"/><rect x="914" y="938" width="10" height="53" rx="4" fill="#6496c0"/><rect x="926" y="939" width="10" height="52" rx="4" fill="#b0cbe0"/>
<rect x="948" y="936" width="10" height="55" rx="4" fill="#d6646c"/><rect x="960" y="934" width="10" height="57" rx="4" fill="#6496c0"/><rect x="972" y="937" width="10" height="54" rx="4" fill="#b0cbe0"/>
</g>
<g font-size="7" text-anchor="middle"><text x="873" y="1001">train</text><text x="919" y="1001">dev</text><text x="964" y="1001">test</text></g>
<g font-size="7.2">
<rect x="993" y="964" width="6" height="6" fill="#d6646c"/><text x="1003" y="970">Baseline (Baevski &amp; Auli 2019)</text>
<rect x="993" y="973" width="6" height="6" fill="#6496c0"/><text x="1003" y="979"><tspan font-style="italic">σ</tspan> Reparam w/o weight  decay</text>
<rect x="993" y="982" width="6" height="6" fill="#b0cbe0"/><text x="1003" y="988"><tspan font-style="italic">σ</tspan> Reparam w/ weight  decay</text>
</g>

<text class="b" x="1189" y="202">We induce <tspan class="bd">sharp reductions of temperature</tspan> in ViT</text>
<text class="b" x="1189" y="218">attention by 10×, varying at what epoch in training the</text>
<text class="b" x="1189" y="235">intervention occurs</text>
<text class="s" x="1197" y="249">– interventions in the warmup period (epochs 10 &amp; 20) induce a</text>
<text class="s" x="1210" y="263">sharp drop in the attention entropy</text>
<text class="s" x="1197" y="277">– this is accompanied by an increase in the sharpness |λ₁|</text>
<text class="s" x="1210" y="291">beyond the stability threshold (black dashed), resulting in</text>
<text class="s" x="1210" y="305">training instability</text>
<text class="s" x="1197" y="319">– interventions afterwards (epochs 20-80) induce a drop in</text>
<text class="s" x="1210" y="333">attention entropy, but no collapse; these models also recover</text>
<text class="s" x="1210" y="346">as the sharpness does not exceed the stability threshold</text>

<g>
<rect class="fr" x="1205" y="356" width="140" height="62"/><rect class="fr" x="1205" y="433" width="140" height="64"/><rect class="fr" x="1205" y="510" width="140" height="67"/><rect class="fr" x="1205" y="588" width="140" height="64"/><rect class="fr" x="1205" y="665" width="140" height="72"/>
<rect class="fr" x="1375" y="356" width="140" height="62"/><rect class="fr" x="1375" y="433" width="140" height="64"/><rect class="fr" x="1375" y="510" width="140" height="67"/><rect class="fr" x="1375" y="588" width="140" height="64"/><rect class="fr" x="1375" y="665" width="140" height="72"/>
</g>
<use href="#lam" x="1377" y="357" width="136" height="60"/>
<use href="#lam" x="1377" y="434" width="136" height="62"/>
<use href="#lam" x="1377" y="511" width="136" height="65"/>
<use href="#lam" x="1377" y="589" width="136" height="62"/>
<use href="#lam" x="1377" y="666" width="136" height="70"/>
<g fill="none" stroke-width="0.9">
<path d="M1208,411 Q1215,385 1222,378 L1232,372 Q1260,365 1342,362" stroke="#111"/>
<path d="M1229,377 L1231,394 L1234,382 L1250,369 M1275,366 L1276,390 L1278,368 M1316,364 L1317,394 L1319,366" stroke="#5aa56a"/>
<path d="M1275,366 L1276,390 L1278,368 L1342,362" stroke="#d65f5f"/>
<path d="M1316,364 L1317,394 L1319,366 L1342,362" stroke="#9b8ad0"/>
<path d="M1208,411 Q1213,400 1216,397 L1219,405 L1224,415 L1342,415" stroke="#4a86c0"/>
<path d="M1208,411 L1220,378 L1221,405 L1226,415 L1342,415" stroke="#ee8f4a"/>
<path d="M1208,492 L1220,490 Q1250,470 1280,463 L1342,461" stroke="#111"/>
<path d="M1212,492 L1222,470 L1240,450 L1260,449 L1280,446 L1300,450 L1320,448 L1342,450" stroke="#4a86c0"/>
<path d="M1214,492 L1224,470 L1240,452 L1260,447 L1280,451 L1300,446 L1320,449 L1342,452" stroke="#ee8f4a"/>
<path d="M1228,480 L1250,476 L1342,477" stroke="#5aa56a"/><path d="M1278,463 L1290,473 L1342,477" stroke="#d65f5f"/><path d="M1322,461 L1330,474 L1342,476" stroke="#9b8ad0"/>
<path d="M1208,514 L1220,517 Q1280,530 1342,536" stroke="#111"/>
<path d="M1208,533 L1214,537 L1218,570 L1342,571" stroke="#4a86c0"/>
<path d="M1208,514 L1217,516 L1218,570 L1342,571" stroke="#ee8f4a"/>
<path d="M1228,521 L1230,561 L1233,541 L1342,545" stroke="#5aa56a"/>
<path d="M1275,527 L1277,561 L1280,549 L1342,548" stroke="#d65f5f"/>
<path d="M1318,532 L1320,562 L1325,553 L1342,553" stroke="#9b8ad0"/>
<path d="M1208,648 L1228,596 L1342,596" stroke="#111"/>
<path d="M1208,669 L1342,669" stroke="#111"/>
<path d="M1217,669 L1218,735 L1342,735" stroke="#ee8f4a"/>
<path d="M1226,669 L1227,735" stroke="#5aa56a"/>
<path d="M1282,669 L1283,735" stroke="#d65f5f"/>
<path d="M1318,669 L1319,735" stroke="#9b8ad0"/>
</g>
<rect x="1288" y="616" width="54" height="32" fill="#fff" stroke="#ccc" stroke-width=".4"/>
<g class="tk" font-size="4.2"><text x="1295" y="623">Intervention Epoch</text><text x="1300" y="630">0</text><text x="1300" y="636">10</text><text x="1300" y="642">20</text><text x="1330" y="630">50</text><text x="1330" y="636">80</text><text x="1330" y="642">None</text></g>
<g stroke-width=".8"><line x1="1291" y1="629" x2="1297" y2="629" stroke="#4a86c0"/><line x1="1291" y1="635" x2="1297" y2="635" stroke="#ee8f4a"/><line x1="1291" y1="641" x2="1297" y2="641" stroke="#5aa56a"/><line x1="1318" y1="629" x2="1325" y2="629" stroke="#d65f5f"/><line x1="1318" y1="635" x2="1325" y2="635" stroke="#9b8ad0"/><line x1="1318" y1="641" x2="1325" y2="641" stroke="#111"/></g>
<g class="tk" font-size="5">
<text x="1197" y="366">60</text><text x="1197" y="387">40</text><text x="1197" y="402">20</text><text x="1199" y="417">0</text>
<text x="1197" y="443">30</text><text x="1197" y="459">20</text><text x="1197" y="476">10</text><text x="1199" y="495">0</text>
<text x="1199" y="522">5</text><text x="1199" y="533">4</text><text x="1199" y="545">3</text><text x="1199" y="556">2</text><text x="1199" y="566">1</text><text x="1199" y="575">0</text>
<text x="1207" y="586">×10⁻³</text><text x="1195" y="598">1.5</text><text x="1195" y="615">1.0</text><text x="1195" y="632">0.5</text>
<text x="1195" y="670">1.0</text><text x="1195" y="684">0.8</text><text x="1195" y="697">0.6</text><text x="1195" y="711">0.4</text><text x="1195" y="724">0.2</text>
<text x="1205" y="744">0</text><text x="1226" y="744">20</text><text x="1252" y="744">40</text><text x="1278" y="744">60</text><text x="1305" y="744">80</text><text x="1331" y="744">100</text>
</g>
<g class="tk" font-size="4.5">
<text x="1376" y="425">0    20    40    60    80    100</text><text x="1376" y="503">0    20    40    60    80    100</text><text x="1376" y="583">0    20    40    60    80    100</text><text x="1376" y="658">0    20    40    60    80    100</text>
<text x="1363" y="364">10¹⁰</text><text x="1363" y="387">50</text><text x="1363" y="441">10¹⁰</text><text x="1363" y="465">50</text><text x="1363" y="519">10¹⁰</text><text x="1363" y="544">50</text><text x="1363" y="596">10¹⁰</text><text x="1363" y="620">50</text><text x="1363" y="673">10¹⁰</text><text x="1363" y="701">50</text>
<text x="1375" y="744">0</text><text x="1396" y="744">20</text><text x="1423" y="744">40</text><text x="1450" y="744">60</text><text x="1477" y="744">80</text><text x="1503" y="744">100</text>
</g>
<g class="sf" font-size="8.5">
<text transform="translate(1196,416) rotate(-90)">Train Top 1 (%)</text>
<text transform="translate(1196,490) rotate(-90)">α⁽¹⁾ σ—norm</text>
<text transform="translate(1196,578) rotate(-90)">α⁽¹⁾—entropy (nats)</text>
<text transform="translate(1196,645) rotate(-90)">Learning Rate</text>
<text transform="translate(1196,728) rotate(-90)">Temperature</text>
<text transform="translate(1360,393) rotate(-90)">|λ₁|</text><text transform="translate(1360,470) rotate(-90)">|λ₂|</text><text transform="translate(1360,549) rotate(-90)">|λ₃|</text><text transform="translate(1360,625) rotate(-90)">|λ₄|</text><text transform="translate(1360,706) rotate(-90)">|λ₅|</text>
<text x="1277" y="748" text-anchor="middle" font-size="10">Training Epochs</text>
<text x="1442" y="748" text-anchor="middle" font-size="10">Training Epochs</text>
</g>

<text class="b" x="1189" y="820">Attention entropy collapse is one the sources of</text>
<text class="b" x="1189" y="837">Transformer instability across many applications.</text>
<text class="b" x="1189" y="870">Controlling spectral norm with <tspan class="bd"><tspan font-style="italic">σ</tspan>Reparam</tspan> prevents</text>
<text class="b" x="1189" y="887">entropy collapse, demonstrating tracking attention</text>
<text class="b" x="1189" y="903">entropy is useful for identifying instability. <tspan class="bd"><tspan font-style="italic">σ</tspan>Reparam</tspan></text>
<text class="b" x="1189" y="920">also stabilizes training, allowing simplifications like</text>
<text class="b" x="1189" y="937">removing layer-norms, training with SGD optimizer,</text>
<text class="b" x="1189" y="953">and hyperparameter robustness.</text>
<text class="b" x="1189" y="987">Recent works report similar phenomenon with other</text>
<text class="b" x="1189" y="1003">solutions to prevent entropy collapse.</text>

<text x="1536" y="1025" font-size="6.5" fill="#444" text-anchor="end">TM and © 2023 Apple Inc. All rights reserved.</text>
</svg>
</body></html>
